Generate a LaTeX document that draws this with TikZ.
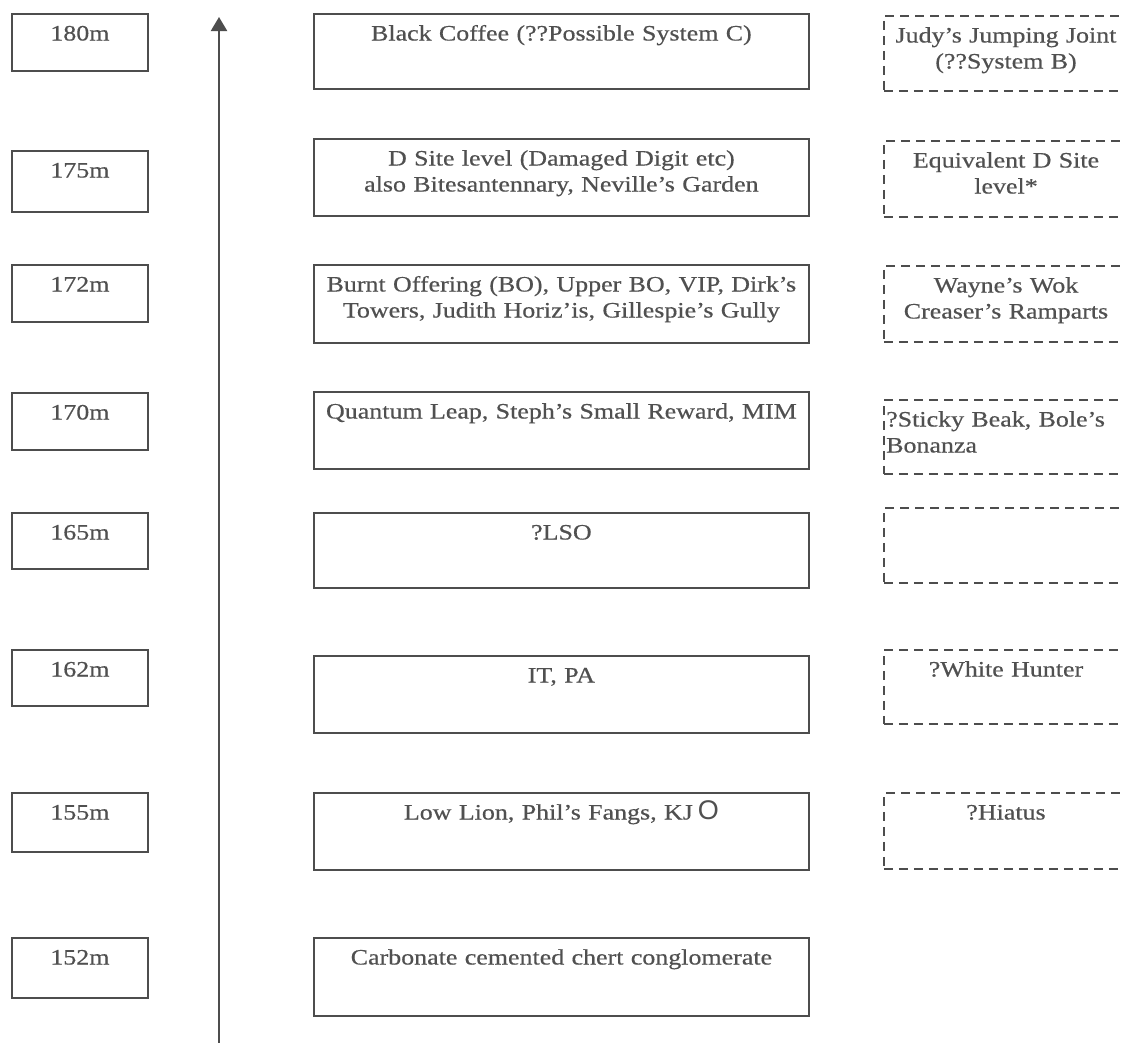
\documentclass[tikz,border=0pt]{standalone}
\usepackage{fontspec}
\setmainfont{Liberation Serif}[FakeStretch=1.18, FakeBold=0.5]
\newfontfamily\osans{Liberation Sans}
\usetikzlibrary{arrows.meta}
\definecolor{ink}{HTML}{4D4D4D}
\definecolor{txtc}{HTML}{505050}
\begin{document}
\begin{tikzpicture}[x=1pt,y=-1pt,
  boxline/.style={draw=ink, line width=1.8pt, inner sep=0pt, anchor=north west},
  solidbox/.style={boxline},
  dashbox/.style={boxline, dash pattern=on 9pt off 6pt},
  lbl/.style={inner sep=0pt, text width=600pt, align=center, anchor=base, text=txtc, font=\fontsize{22}{26}\selectfont},
  lbll/.style={lbl, align=left, text width=260pt, anchor=base west},
  axisline/.style={draw=ink, line width=2.2pt, -{Triangle[width=16pt,length=14pt]}}]
\useasboundingbox (0,0) rectangle (1123,1042);
\fill[white] (0,0) rectangle (1123,1042);

% axis
\coordinate (abot) at (219,1050);
\coordinate (atop) at (219,17);
\draw[axisline] (abot) -- (atop);

% left level boxes
\node[solidbox, minimum width=136pt, minimum height=57pt] (l180) at (11,13) {};
\node[solidbox, minimum width=136pt, minimum height=61pt] (l175) at (11,150) {};
\node[solidbox, minimum width=136pt, minimum height=57pt] (l172) at (11,264) {};
\node[solidbox, minimum width=136pt, minimum height=57pt] (l170) at (11,392) {};
\node[solidbox, minimum width=136pt, minimum height=56pt] (l165) at (11,512) {};
\node[solidbox, minimum width=136pt, minimum height=56pt] (l162) at (11,649) {};
\node[solidbox, minimum width=136pt, minimum height=59pt] (l155) at (11,792) {};
\node[solidbox, minimum width=136pt, minimum height=60pt] (l152) at (11,937) {};
\node[lbl] (l180t) at ([yshift=-27.5pt]l180.north) {180m};
\node[lbl] (l175t) at ([yshift=-27.5pt]l175.north) {175m};
\node[lbl] (l172t) at ([yshift=-27.5pt]l172.north) {172m};
\node[lbl] (l170t) at ([yshift=-27.5pt]l170.north) {170m};
\node[lbl] (l165t) at ([yshift=-27.5pt]l165.north) {165m};
\node[lbl] (l162t) at ([yshift=-27.5pt]l162.north) {162m};
\node[lbl] (l155t) at ([yshift=-27.5pt]l155.north) {155m};
\node[lbl] (l152t) at ([yshift=-27.5pt]l152.north) {152m};

% centre boxes
\node[solidbox, minimum width=495pt, minimum height=75pt] (c180) at (313,13) {};
\node[solidbox, minimum width=495pt, minimum height=77pt] (c175) at (313,138) {};
\node[solidbox, minimum width=495pt, minimum height=78pt] (c172) at (313,264) {};
\node[solidbox, minimum width=495pt, minimum height=77pt] (c170) at (313,391) {};
\node[solidbox, minimum width=495pt, minimum height=75pt] (c165) at (313,512) {};
\node[solidbox, minimum width=495pt, minimum height=77pt] (c162) at (313,655) {};
\node[solidbox, minimum width=495pt, minimum height=77pt] (c155) at (313,792) {};
\node[solidbox, minimum width=495pt, minimum height=78pt] (c152) at (313,937) {};
\node[lbl] (c180t) at ([yshift=-27.5pt]c180.north) {Black Coffee (??Possible System C)};
\node[lbl] (c175t) at ([yshift=-27.5pt]c175.north) {D Site level (Damaged Digit etc)\\also Bitesantennary, Neville's Garden};
\node[lbl] (c172t) at ([yshift=-27.5pt]c172.north) {Burnt Offering (BO), Upper BO, VIP, Dirk's\\Towers, Judith Horiz'is, Gillespie's Gully};
\node[lbl] (c170t) at ([yshift=-27.5pt]c170.north) {Quantum Leap, Steph's Small Reward, MIM};
\node[lbl] (c165t) at ([yshift=-27.5pt]c165.north) {?LSO};
\node[lbl] (c162t) at ([yshift=-27.5pt]c162.north) {IT, PA};
\node[lbl] (c155t) at ([yshift=-27.5pt]c155.north) {Low Lion, Phil's Fangs, KJ\hspace{5pt}{\osans\fontsize{27}{27}\selectfont O}};
\node[lbl] (c152t) at ([yshift=-27.5pt]c152.north) {Carbonate cemented chert conglomerate};

% right dashed boxes (open at the page edge)
\node[dashbox, minimum width=260pt, minimum height=75pt] (r180) at (883,15) {};
\node[dashbox, minimum width=260pt, minimum height=76pt] (r175) at (883,140) {};
\node[dashbox, minimum width=260pt, minimum height=76pt] (r172) at (883,265) {};
\node[dashbox, minimum width=260pt, minimum height=74pt] (r170) at (883,399) {};
\node[dashbox, minimum width=260pt, minimum height=75pt] (r165) at (883,507) {};
\node[dashbox, minimum width=260pt, minimum height=74pt] (r162) at (883,649) {};
\node[dashbox, minimum width=260pt, minimum height=76pt] (r155) at (883,792) {};
\node[lbl] (r180t) at ([xshift=123pt,yshift=-27.5pt]r180.north west) {Judy's Jumping Joint\\(??System B)};
\node[lbl] (r175t) at ([xshift=123pt,yshift=-27.5pt]r175.north west) {Equivalent D Site\\level*};
\node[lbl] (r172t) at ([xshift=123pt,yshift=-27.5pt]r172.north west) {Wayne's Wok\\Creaser's Ramparts};
\node[lbll] (r170t) at ([xshift=3pt,yshift=-27.5pt]r170.north west) {?Sticky Beak, Bole's\\Bonanza};
\node[lbl] (r162t) at ([xshift=123pt,yshift=-27.5pt]r162.north west) {?White Hunter};
\node[lbl] (r155t) at ([xshift=123pt,yshift=-27.5pt]r155.north west) {?Hiatus};
\end{tikzpicture}
\end{document}
